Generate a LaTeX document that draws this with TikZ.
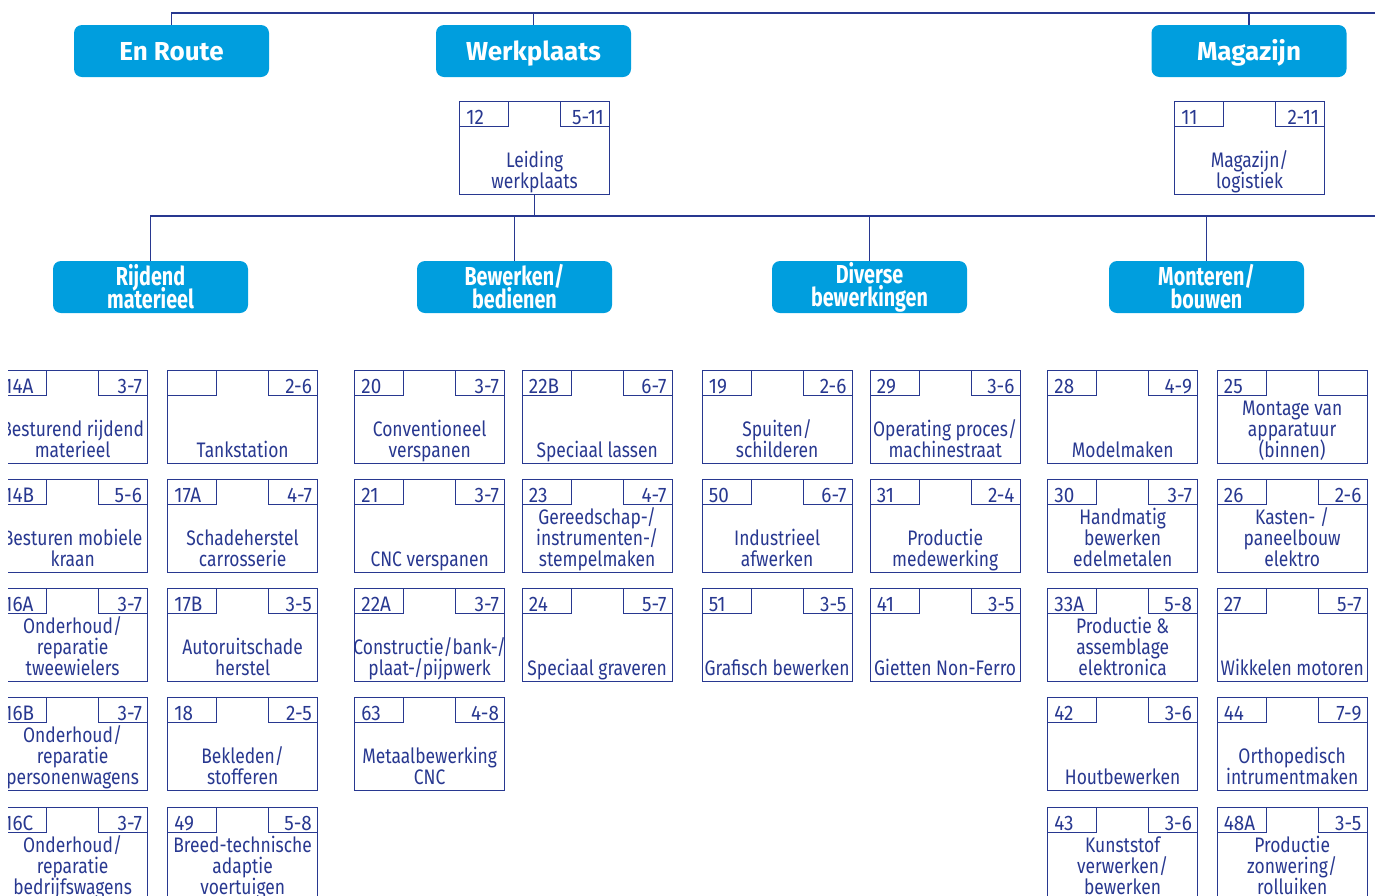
\documentclass[tikz,border=0pt]{standalone}
\usepackage{fontspec}
\setmainfont{Fira Sans}[FakeStretch=0.83]
\newfontfamily\topheadfont{Fira Sans}
\newfontfamily\tabfont{Fira Sans}[FakeStretch=0.9]
\newfontfamily\subheadfont{Fira Sans}[FakeStretch=0.76]
\usetikzlibrary{calc}
\definecolor{navy}{RGB}{40,56,144}
\definecolor{hblue}{RGB}{0,158,222}
\newcommand\tightlines{\setlength{\lineskiplimit}{-20pt}}
\tikzset{
 conn/.style={draw=navy, line width=0.75pt},
 boxline/.style={draw=navy, line width=0.65pt},
 leafbox/.style={boxline, rectangle, minimum width=75pt, minimum height=46.5pt, inner sep=0pt, anchor=north west},
 tabbox/.style={boxline, rectangle, minimum width=24.5pt, minimum height=12.5pt, inner sep=0pt},
 tabtxt/.style={text=navy, font=\tabfont\fontsize{10.5}{10.5}\selectfont, inner sep=0pt},
 leaftxt/.style={text=navy, font=\fontsize{10.5}{10.5}\selectfont\tightlines, align=center, inner sep=0pt, anchor=south},
 tophead/.style={fill=hblue, rounded corners=4pt, minimum width=97.5pt, minimum height=26pt, text=white, font=\topheadfont\fontsize{13}{13}\selectfont\bfseries, inner sep=0pt, text height=9pt, text depth=0pt},
 subhead/.style={fill=hblue, rounded corners=4pt, minimum width=97.5pt, minimum height=26pt, text=white, inner sep=0pt, font=\subheadfont\fontsize{13}{11.5}\selectfont\bfseries\tightlines, align=center},
}
\newcommand\leaf[6]{%
 \node[leafbox] (#1) at (#2,#3) {};
 \node[tabbox, anchor=north west] (#1l) at (#1.north west) {};
 \node[tabbox, anchor=north east] (#1r) at (#1.north east) {};
 \node[tabtxt, anchor=base west] at ($(#1l.south west)+(7,-3)$) {#4};
 \node[tabtxt, anchor=base east] at ($(#1r.south east)+(-6,-3)$) {#5};
 \node[leaftxt] at (#1.south) {#6\strut};
}
\begin{document}
\begin{tikzpicture}[x=0.5pt, y=-0.5pt]
\useasboundingbox (0,0) rectangle (1375,895);
\clip (8,0) rectangle (1375,895);
% top level
\node[tophead] (enroute) at (171.5,51) {En Route};
\node[tophead] (werkplaats) at (533.5,51) {Werkplaats};
\node[tophead] (magazijn) at (1249,51) {Magazijn};
\coordinate (busR) at (1390,13);
\draw[conn] (enroute.north) |- (busR);
\draw[conn] (werkplaats.north) -- (werkplaats.north |- busR);
\draw[conn] (magazijn.north) -- (magazijn.north |- busR);
% second row boxes
\leaf{L12}{459}{101}{12}{5-11}{Leiding\\werkplaats}
\leaf{L11}{1174}{101}{11}{2-11}{Magazijn/\\logistiek}
% second level
\node[subhead] (rijdend) at (150.5,287) {Rijdend\\materieel};
\node[subhead] (bewerken) at (514.5,287) {Bewerken/\\bedienen};
\node[subhead] (diverse) at (869.5,287) {Diverse\\bewerkingen};
\node[subhead] (monteren) at (1206.5,287) {Monteren/\\bouwen};
\coordinate (bus2R) at (1390,216);
\draw[conn] (rijdend.north) |- (bus2R);
\draw[conn] (L12.south) -- (L12.south |- bus2R);
\draw[conn] (bewerken.north) -- (bewerken.north |- bus2R);
\draw[conn] (diverse.north) -- (diverse.north |- bus2R);
\draw[conn] (monteren.north) -- (monteren.north |- bus2R);
% column 1
\leaf{B14A}{-3}{370}{14A}{3-7}{Besturend rijdend\\materieel}
\leaf{B14B}{-3}{479}{14B}{5-6}{Besturen mobiele\\kraan}
\leaf{B16A}{-3}{588}{16A}{3-7}{Onderhoud/\\reparatie\\tweewielers}
\leaf{B16B}{-3}{697}{16B}{3-7}{Onderhoud/\\reparatie\\personenwagens}
\leaf{B16C}{-3}{807}{16C}{3-7}{Onderhoud/\\reparatie\\bedrijfswagens}
% column 2
\leaf{Btank}{167}{370}{}{2-6}{Tankstation}
\leaf{B17A}{167}{479}{17A}{4-7}{Schadeherstel\\carrosserie}
\leaf{B17B}{167}{588}{17B}{3-5}{Autoruitschade\\herstel}
\leaf{B18}{167}{697}{18}{2-5}{Bekleden/\\stofferen}
\leaf{B49}{167}{807}{49}{5-8}{Breed-technische\\adaptie\\voertuigen}
% column 3
\leaf{B20}{354}{370}{20}{3-7}{Conventioneel\\verspanen}
\leaf{B21}{354}{479}{21}{3-7}{CNC verspanen}
\leaf{B22A}{354}{588}{22A}{3-7}{Constructie/bank-/\\plaat-/pijpwerk}
\leaf{B63}{354}{697}{63}{4-8}{Metaalbewerking\\CNC}
% column 4
\leaf{B22B}{521.5}{370}{22B}{6-7}{Speciaal lassen}
\leaf{B23}{521.5}{479}{23}{4-7}{Gereedschap-/\\instrumenten-/\\stempelmaken}
\leaf{B24}{521.5}{588}{24}{5-7}{Speciaal graveren}
% column 5
\leaf{B19}{701.5}{370}{19}{2-6}{Spuiten/\\schilderen}
\leaf{B50}{701.5}{479}{50}{6-7}{Industrieel\\afwerken}
\leaf{B51}{701.5}{588}{51}{3-5}{Grafisch bewerken}
% column 6
\leaf{B29}{869.5}{370}{29}{3-6}{Operating proces/\\machinestraat}
\leaf{B31}{869.5}{479}{31}{2-4}{Productie\\medewerking}
\leaf{B41}{869.5}{588}{41}{3-5}{Gietten Non-Ferro}
% column 7
\leaf{B28}{1047}{370}{28}{4-9}{Modelmaken}
\leaf{B30}{1047}{479}{30}{3-7}{Handmatig\\bewerken\\edelmetalen}
\leaf{B33A}{1047}{588}{33A}{5-8}{Productie \&\\assemblage\\elektronica}
\leaf{B42}{1047}{697}{42}{3-6}{Houtbewerken}
\leaf{B43}{1047}{807}{43}{3-6}{Kunststof\\verwerken/\\bewerken}
% column 8
\leaf{B25}{1216.5}{370}{25}{}{Montage van\\apparatuur\\(binnen)}
\leaf{B26}{1216.5}{479}{26}{2-6}{Kasten- /\\paneelbouw\\elektro}
\leaf{B27}{1216.5}{588}{27}{5-7}{Wikkelen motoren}
\leaf{B44}{1216.5}{697}{44}{7-9}{Orthopedisch\\intrumentmaken}
\leaf{B48A}{1216.5}{807}{48A}{3-5}{Productie\\zonwering/\\rolluiken}
\end{tikzpicture}
\end{document}
